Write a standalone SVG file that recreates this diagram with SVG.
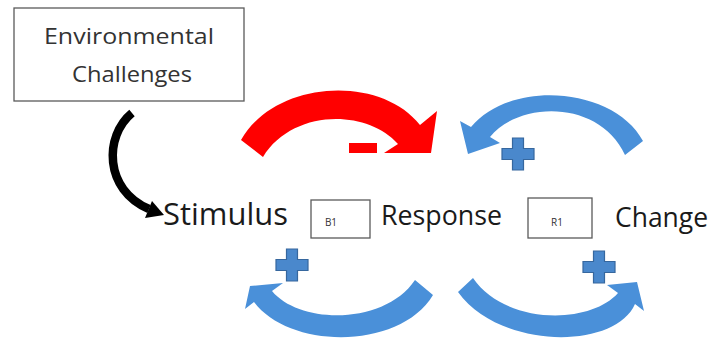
<svg xmlns="http://www.w3.org/2000/svg" width="712" height="339" viewBox="0 0 712 339">
  <style>
    .box { fill: #ffffff; stroke: #5a5a5a; stroke-width: 1.3; }
    .lbl { font-family: "Open Sans", "Liberation Sans", sans-serif; fill: #1a1a1a; }
    .env { font-family: "Open Sans", "Liberation Sans", sans-serif; fill: #333333; font-size: 21px; }
    .tag { font-family: "Open Sans", "Liberation Sans", sans-serif; fill: #333333; font-size: 10px; }
    .blue { fill: #4a90d9; }
    .red { fill: #ff0000; }
    .plus { fill: #4a88cc; stroke: #36679e; stroke-width: 1.2; }
  </style>
  <defs>
    <path id="plusShape" d="M-5.5,-16 H5.5 V-5.5 H16 V5.5 H5.5 V16 H-5.5 V5.5 H-16 V-5.5 H-5.5 Z"/>
  </defs>
  <rect width="712" height="339" fill="#ffffff"/>

  <g id="env">
    <rect class="box" x="14" y="8" width="230" height="93"/>
    <text class="env" x="129" y="44" text-anchor="middle" textLength="170" lengthAdjust="spacingAndGlyphs">Environmental</text>
    <text class="env" x="132" y="82" text-anchor="middle" textLength="120" lengthAdjust="spacingAndGlyphs">Challenges</text>
  </g>

  <g id="stimulus">
    <text class="lbl" x="163" y="225" font-size="31" textLength="125" lengthAdjust="spacingAndGlyphs">Stimulus</text>
  </g>
  <g id="b1">
    <rect class="box" x="311" y="200" width="59" height="38"/>
    <text class="tag" x="331" y="226" text-anchor="middle">B1</text>
  </g>
  <g id="response">
    <text class="lbl" x="381" y="225" font-size="27" textLength="121" lengthAdjust="spacingAndGlyphs">Response</text>
  </g>
  <g id="r1">
    <rect class="box" x="528" y="198" width="64" height="40"/>
    <text class="tag" x="557" y="226" text-anchor="middle">R1</text>
  </g>
  <g id="change">
    <text class="lbl" x="615" y="227" font-size="27" textLength="93" lengthAdjust="spacingAndGlyphs">Change</text>
  </g>

  <g id="connectors">
    <!-- black arrow: Environmental Challenges -> Stimulus -->
    <path d="M132,113 C104,136 104,190 149,209" fill="none" stroke="#000000" stroke-width="8.5"/>
    <polygon points="164,215 152,201 145,218" fill="#000000"/>
    <!-- red arrow: Stimulus -> Response (top) -->
    <path class="red" d="M241,140 C275,80 380,74 420,125 L437,111 L431,153 L384,153 L398,144 C365,108 292,110 263,157 Z"/>
    <!-- blue arrow: Change -> Response (top) -->
    <path class="blue" d="M643,141 C615,88 512,78 471,127 L460,121 L468,154 L500,143 L490,137 C520,100 600,100 625,155 Z"/>
    <!-- blue arrow: Response -> Stimulus (bottom) -->
    <path class="blue" d="M433,295 C400,350 290,350 254,302 L245,309 L250,286 L283,283 L272,291 C300,325 385,325 415,280 Z"/>
    <!-- blue arrow: Response -> Change (bottom) -->
    <path class="blue" d="M458,292 C500,350 615,350 635,304 L644,311 L637,282 L607,285 L618,293 C590,325 505,325 473,278 Z"/>
  </g>

  <g id="signs">
    <rect class="red" x="349" y="143" width="28" height="10"/>
    <use href="#plusShape" class="plus" x="518" y="154"/>
    <use href="#plusShape" class="plus" x="292" y="265"/>
    <use href="#plusShape" class="plus" x="599" y="267"/>
  </g>
</svg>
